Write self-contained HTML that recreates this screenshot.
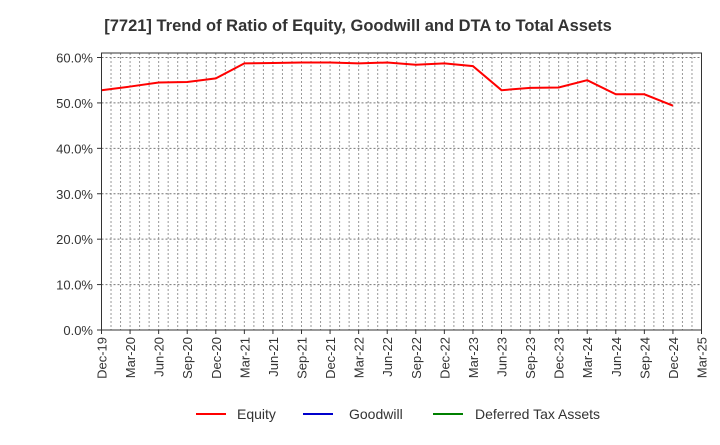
<!DOCTYPE html>
<html><head><meta charset="utf-8"><style>
body{margin:0;background:#fff;font-family:"Liberation Sans",sans-serif}
</style></head><body>
<svg width="720" height="440" xmlns="http://www.w3.org/2000/svg" font-family="Liberation Sans, sans-serif">
<text x="358" y="31" text-anchor="middle" font-size="16.5" font-weight="bold" fill="#333">[7721]  Trend of Ratio of Equity, Goodwill and DTA to Total Assets</text>
<g id="grid"></g>
<g id="yaxis"></g>
<g id="xaxis"></g>
<path id="equity" fill="none" stroke="#ff0000" stroke-width="2"/>
<rect x="101.5" y="53" width="600" height="277" fill="none" stroke="#333" stroke-width="1"/>
<g>
<g><line x1="196" y1="414" x2="226" y2="414" stroke="#ff0000" stroke-width="2"/><text x="237" y="419" font-size="14" fill="#333">Equity</text></g>
<g><line x1="303" y1="414" x2="333" y2="414" stroke="#0000cc" stroke-width="2"/><text x="349" y="419" font-size="14" fill="#333">Goodwill</text></g>
<g><line x1="433" y1="414" x2="463" y2="414" stroke="#008000" stroke-width="2"/><text x="475" y="419" font-size="14" fill="#333">Deferred Tax Assets</text></g>
</g>
</svg>
<script>
const xLabels=["Dec-19","Mar-20","Jun-20","Sep-20","Dec-20","Mar-21","Jun-21","Sep-21","Dec-21","Mar-22","Jun-22","Sep-22","Dec-22","Mar-23","Jun-23","Sep-23","Dec-23","Mar-24","Jun-24","Sep-24","Dec-24","Mar-25"];
const yTicks=[0,10,20,30,40,50,60];
const equity=[52.8,53.6,54.5,54.6,55.4,58.7,58.8,58.9,58.9,58.7,58.9,58.4,58.7,58.1,52.8,53.3,53.4,55.0,51.9,51.9,49.4];
const NS="http://www.w3.org/2000/svg";
const x0=101.5,x1=701.5,yBase=330,yScale=(330-57.5)/60;
const X=i=>x0+i*(x1-x0)/(xLabels.length-1);
const Y=v=>yBase-v*yScale;
function mk(t,a,p){const e=document.createElementNS(NS,t);for(const k in a)e.setAttribute(k,a[k]);p.appendChild(e);return e;}
const grid=document.getElementById('grid'),ya=document.getElementById('yaxis'),xa=document.getElementById('xaxis');
for(let m=1;m<(xLabels.length-1)*3;m++){const x=x0+m*(x1-x0)/((xLabels.length-1)*3);
const l=mk('line',{x1:x,x2:x,y1:53,y2:330,stroke:'#999','stroke-dasharray':'2,2','stroke-width':1},grid);

}
yTicks.forEach(v=>{const y=Y(v);
if(v>0){const g=mk('line',{x1:x0,x2:x1,y1:y,y2:y,stroke:'#777','stroke-dasharray':'2,2','stroke-width':1},grid);

}
const t=mk('text',{x:93,y:y+5,'text-anchor':'end','font-size':13,fill:'#333'},ya);t.textContent=v.toFixed(1)+'%';


mk('line',{x1:97,x2:x0,y1:y,y2:y,stroke:'#333'},ya);});
xLabels.forEach((s,i)=>{const x=X(i);
mk('line',{x1:x,x2:x,y1:330,y2:334,stroke:'#333'},xa);
const t=mk('text',{x:x+5,y:337,'text-anchor':'end','font-size':13,fill:'#333',transform:`rotate(-90 ${x+5} 337)`},xa);t.textContent=s;

});
document.getElementById('equity').setAttribute('d',equity.map((v,i)=>(i?'L':'M')+X(i)+','+Y(v)).join(''));
</script>
</body></html>
